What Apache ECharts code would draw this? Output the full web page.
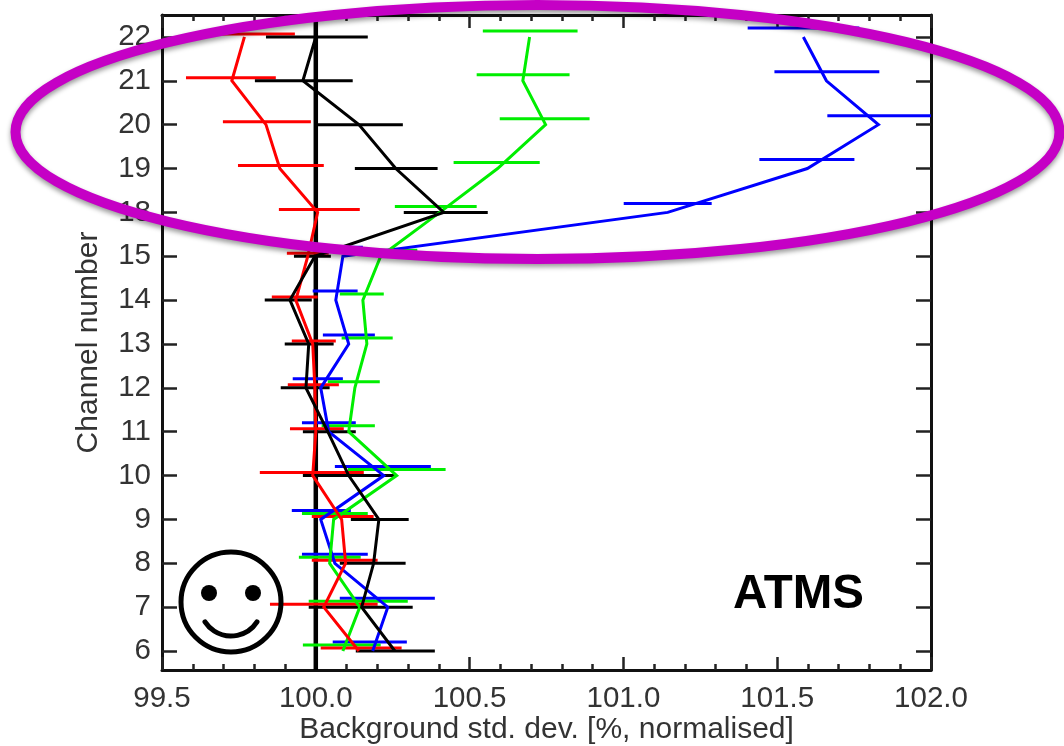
<!DOCTYPE html>
<html><head><meta charset="utf-8">
<style>html,body{margin:0;padding:0;background:#fff}#c{width:1064px;height:746px}</style>
<script src="https://cdn.jsdelivr.net/npm/echarts@6/dist/echarts.min.js"></script>
</head><body><div id="c"></div>
<script>
const channels = [6,7,8,9,10,11,12,13,14,15,18,19,20,21,22];

const redMean = [100.140,100.026,100.097,100.084,99.990,100.000,99.997,99.990,99.935,99.974,100.006,99.883,99.838,99.727,99.768];
const redLow  = [100.016,99.851,99.987,99.987,99.818,99.916,99.909,99.922,99.857,99.906,99.880,99.747,99.698,99.578,99.600];
const redHigh = [100.279,100.201,100.201,100.188,100.156,100.091,100.075,100.065,100.006,100.042,100.143,100.026,99.984,99.870,99.932];

const blackMean = [100.257,100.149,100.188,100.205,100.107,100.039,99.968,99.977,99.916,99.997,100.416,100.260,100.140,99.958,100.000];
const blackLow  = [100.130,99.977,100.078,100.114,99.958,99.958,99.886,99.899,99.834,99.929,100.286,100.127,100.000,99.802,99.838];
const blackHigh = [100.387,100.315,100.292,100.302,100.260,100.130,100.045,100.058,99.987,100.049,100.559,100.396,100.283,100.120,100.169];

const greenMean = [100.088,100.143,100.045,100.058,100.263,100.107,100.127,100.166,100.153,100.211,100.403,100.591,100.747,100.673,100.695];
const greenLow  = [99.958,99.977,99.945,99.955,100.104,100.019,100.039,100.084,100.078,100.085,100.257,100.448,100.598,100.523,100.543];
const greenHigh = [100.211,100.299,100.146,100.169,100.422,100.192,100.208,100.250,100.221,100.330,100.523,100.728,100.890,100.825,100.851];

const blueMean = [100.185,100.234,100.062,100.016,100.221,100.042,100.016,100.107,100.065,100.088,101.144,101.598,101.829,101.660,101.585];
const blueLow  = [100.055,100.078,99.955,99.922,100.062,99.955,99.925,100.023,99.990,100.023,101.001,101.442,101.663,101.491,101.404];
const blueHigh = [100.296,100.387,100.169,100.114,100.374,100.130,100.088,100.192,100.136,100.153,101.287,101.751,102.000,101.832,101.767];

const xTicks = [99.5,100.0,100.5,101.0,101.5,102.0];
const referenceValue = 100;
const annotation = 'ATMS';

const yMin = -0.433, yMax = 14.5;
const tickPositions = channels.map((_, i) => i);
const labelFont = 'Liberation Sans, Arial, sans-serif';
const textColor = '#333333';

function lineSeries(name, color, mean) {
  return {
    name, type: 'line', data: mean.map((v, i) => [v, i]),
    showSymbol: false, symbol: 'none', smooth: false, z: 3,
    lineStyle: { color, width: 3, join: 'miter' }
  };
}
function barSeries(name, color, low, high, offset) {
  return {
    name: name + ' range', type: 'custom', z: 3,
    data: low.map((v, i) => [v, high[i], i]),
    encode: { x: [0, 1], y: 2 },
    renderItem(params, api) {
      const a = api.coord([api.value(0), api.value(2)]);
      const b = api.coord([api.value(1), api.value(2)]);
      return { type: 'line',
        shape: { x1: a[0], y1: a[1] + offset, x2: b[0], y2: b[1] + offset },
        style: { stroke: color, lineWidth: 3, fill: null } };
    }
  };
}

const xBase = {
  type: 'value', min: 99.5, max: 102, interval: 0.5,
  axisLine: { show: true, onZero: false, lineStyle: { color: '#111', width: 3 } },
  axisTick: { show: true, inside: true, length: 13, lineStyle: { color: '#222', width: 2.5 } },
  minorTick: { show: true, splitNumber: 5, length: 6, lineStyle: { color: '#222', width: 2.5 } },
  splitLine: { show: false }, minorSplitLine: { show: false }
};
const yBase = {
  type: 'value', min: yMin, max: yMax,
  axisLine: { show: true, onZero: false, lineStyle: { color: '#111', width: 3 } },
  axisTick: { show: true, inside: true, length: 15, customValues: tickPositions, lineStyle: { color: '#222', width: 2.5 } },
  splitLine: { show: false }
};

const option = {
  animation: false,
  backgroundColor: '#fff',
  grid: { left: 162, right: 133, top: 15, bottom: 76, containLabel: false, outerBoundsMode: 'none' },
  xAxis: [
    Object.assign({}, xBase, { position: 'bottom',
      name: 'Background std. dev. [%, normalised]', nameLocation: 'middle', nameGap: 45, nameMoveOverlap: false,
      nameTextStyle: { fontFamily: labelFont, fontSize: 30, color: textColor },
      axisLabel: { show: true, margin: 14, fontFamily: labelFont, fontSize: 29.5, color: textColor,
        customValues: xTicks, formatter: v => v.toFixed(1) } }),
    Object.assign({}, xBase, { position: 'top', axisLabel: { show: false } })
  ],
  yAxis: [
    Object.assign({}, yBase, { position: 'left',
      name: 'Channel number', nameLocation: 'middle', nameGap: 58,
      nameTextStyle: { fontFamily: labelFont, fontSize: 30, color: textColor },
      axisLabel: { show: true, margin: 11, fontFamily: labelFont, fontSize: 29.5, color: textColor,
        padding: [6, 0, 0, 0],
        customValues: tickPositions, formatter: v => String(channels[Math.round(v)]) } }),
    Object.assign({}, yBase, { position: 'right', axisLabel: { show: false } })
  ],
  series: [
    { name: 'reference', type: 'line', symbol: 'none', z: 2,
      data: [[referenceValue, yMin], [referenceValue, yMax]],
      lineStyle: { color: '#000', width: 4.5 } },
    barSeries('blue', '#0000ff', blueLow, blueHigh, -9),
    lineSeries('blue', '#0000ff', blueMean),
    barSeries('green', '#00ee00', greenLow, greenHigh, -6),
    lineSeries('green', '#00ee00', greenMean),
    barSeries('red', '#ff0000', redLow, redHigh, -3),
    lineSeries('red', '#ff0000', redMean),
    barSeries('black', '#000000', blackLow, blackHigh, 0),
    lineSeries('black', '#000000', blackMean)
  ],
  graphic: [
    { type: 'text', left: 733, top: 571, z: 50, style: { text: annotation,
      font: 'bold 47.5px Liberation Sans, Arial, sans-serif', fill: '#000' } },
    { type: 'circle', z: 50, shape: { cx: 231, cy: 602, r: 50 }, style: { fill: 'none', stroke: '#000', lineWidth: 5 } },
    { type: 'circle', z: 50, shape: { cx: 209, cy: 593, r: 8 }, style: { fill: '#000' } },
    { type: 'circle', z: 50, shape: { cx: 253, cy: 593, r: 8 }, style: { fill: '#000' } },
    { type: 'arc', z: 50, shape: { cx: 231, cy: 605, r: 31, startAngle: 0.576, endAngle: 2.566, clockwise: true },
      style: { fill: 'none', stroke: '#000', lineWidth: 5, lineCap: 'round' } },
    { type: 'ellipse', z: 60, shape: { cx: 537.5, cy: 132, rx: 522, ry: 127 },
      style: { fill: 'none', stroke: '#c500c5', lineWidth: 10,
        shadowBlur: 5, shadowColor: 'rgba(0,0,0,0.4)', shadowOffsetY: 3 } }
  ]
};
const chart = echarts.init(document.getElementById('c'), null, { renderer: 'canvas', width: 1064, height: 746 });
chart.setOption(option);
</script></body></html>
